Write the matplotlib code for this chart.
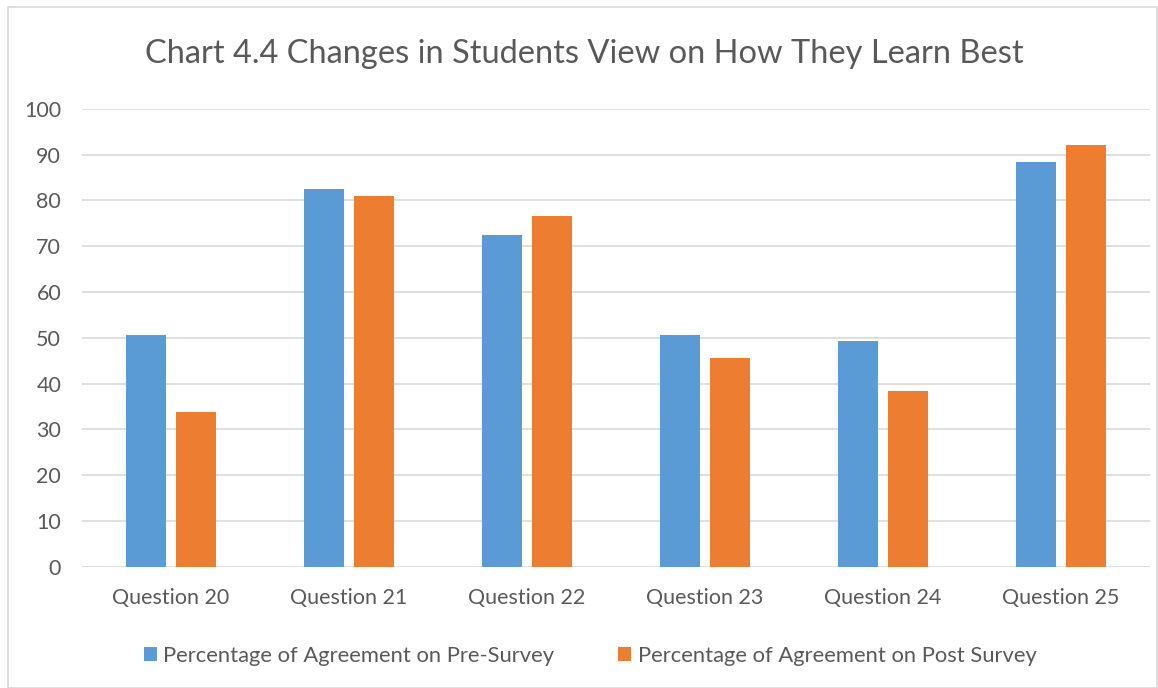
import matplotlib.pyplot as plt
from matplotlib.patches import Rectangle
import numpy as np

plt.rcParams['font.family'] = ['Lato', 'DejaVu Sans']

categories = ['Question 20', 'Question 21', 'Question 22', 'Question 23', 'Question 24', 'Question 25']
pre_survey = [50.6, 82.5, 72.5, 50.6, 49.2, 88.4]
post_survey = [33.8, 80.9, 76.5, 45.5, 38.3, 92.1]
series_names = ['Percentage of Agreement on Pre-Survey', 'Percentage of Agreement on Post Survey']

fig = plt.figure(figsize=(11.58, 6.88), dpi=100)
ax = fig.add_axes([0.0708, 0.176, 0.922, 0.666])

x = np.arange(len(categories))
w = 0.225
gap = 0.056
ax.bar(x - (w + gap) / 2, pre_survey, w, color='#5B9BD5', label=series_names[0], zorder=3)
ax.bar(x + (w + gap) / 2, post_survey, w, color='#ED7D31', label=series_names[1], zorder=3)

ax.set_xlim(-0.5, len(categories) - 0.5)
ax.set_ylim(0, 100)
ax.set_yticks(range(0, 101, 10))
ax.set_xticks(x)
ax.set_xticklabels(categories)
ax.tick_params(axis='both', length=0, labelsize=15.5, colors='#595959')
ax.tick_params(axis='x', pad=15)
ax.tick_params(axis='y', pad=15)
ax.grid(axis='y', color='#d9d9d9', linewidth=1.2, zorder=0)
for s in ax.spines.values():
    s.set_visible(False)

fig.text(0.505, 0.922, 'Chart 4.4 Changes in Students View on How They Learn Best',
         ha='center', va='center', fontsize=23.5, color='#595959')

ax.legend(loc='center', bbox_to_anchor=(0.476, -0.194), ncol=2, frameon=False,
          fontsize=15.8, labelcolor='#595959', handlelength=0.6, handleheight=0.6,
          handletextpad=0.3, columnspacing=2.9)

# chart area border
fig.patches.append(Rectangle((0.007, 0.0), 0.992, 0.99, transform=fig.transFigure,
                             fill=False, edgecolor='#d9d9d9', linewidth=1.2))

fig.savefig('out.png', dpi=100)
